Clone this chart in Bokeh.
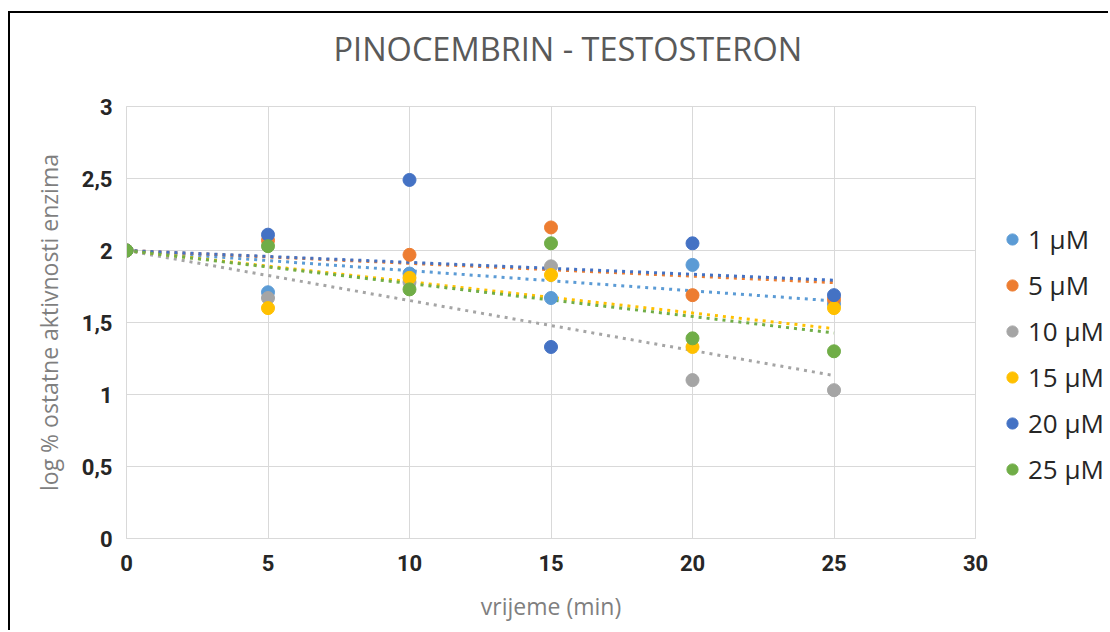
from bokeh.plotting import figure
from bokeh.layouts import row
from bokeh.models import Legend, LegendItem, FixedTicker, CustomJSTickFormatter, Title
from bokeh.embed import file_html
from bokeh.resources import INLINE

# ---- data ----
time_min = [0, 5, 10, 15, 20, 25]
series_names = ["1 \u00b5M", "5 \u00b5M", "10 \u00b5M", "15 \u00b5M", "20 \u00b5M", "25 \u00b5M"]
c1 = [2.00, 1.71, 1.84, 1.67, 1.90, 1.63]
c5 = [2.00, 2.07, 1.97, 2.16, 1.69, 1.66]
c10 = [2.00, 1.67, 1.78, 1.89, 1.10, 1.03]
c15 = [2.00, 1.60, 1.81, 1.83, 1.33, 1.60]
c20 = [2.00, 2.11, 2.49, 1.33, 2.05, 1.69]
c25 = [2.00, 2.03, 1.73, 2.05, 1.39, 1.30]
series_values = [c1, c5, c10, c15, c20, c25]
colors = ["#5B9BD5", "#ED7D31", "#A5A5A5", "#FFC000", "#4472C4", "#70AD47"]
x_ticks = [0, 5, 10, 15, 20, 25, 30]
y_ticks = [0, 0.5, 1, 1.5, 2, 2.5, 3]
title_text = "PINOCEMBRIN - TESTOSTERON"


def trend(xs, ys):
    # linear trendline with intercept fixed at the value at t=0
    y0 = ys[0]
    num = sum(x * (y - y0) for x, y in zip(xs, ys))
    den = sum(x * x for x in xs)
    k = num / den
    return [xs[0], xs[-1]], [y0 + k * xs[0], y0 + k * xs[-1]]


H = 617
p = figure(width=985, height=H, x_range=(0, 30), y_range=(0, 3),
           output_backend="svg", toolbar_location=None,
           min_border_left=116, min_border_right=20,
           min_border_top=93, min_border_bottom=92)

# spacer between title and plot frame, then the title itself
p.add_layout(Title(text=" ", text_font_size="2px", standoff=32), "above")
p.add_layout(Title(text=title_text, align="left", offset=207,
                   vertical_align="bottom", standoff=0,
                   text_font="Open Sans", text_font_style="normal",
                   text_font_size="32.5px", text_color="#595959"), "above")

p.outline_line_color = "#D9D9D9"
p.background_fill_color = "white"
p.border_fill_color = "white"

grid_col = "#D9D9D9"
p.xgrid.grid_line_color = grid_col
p.ygrid.grid_line_color = grid_col
p.xgrid.ticker = FixedTicker(ticks=x_ticks)
p.ygrid.ticker = FixedTicker(ticks=y_ticks)

p.xaxis.ticker = FixedTicker(ticks=x_ticks)
p.yaxis.ticker = FixedTicker(ticks=y_ticks)
p.yaxis.formatter = CustomJSTickFormatter(code="return String(tick).replace('.', ',');")

for ax in (p.xaxis[0], p.yaxis[0]):
    ax.axis_line_color = grid_col
    ax.major_tick_line_color = None
    ax.minor_tick_line_color = None
    ax.major_tick_out = 0
    ax.major_tick_in = 0
    ax.major_label_text_font = "Roboto"
    ax.major_label_text_font_style = "bold"
    ax.major_label_text_font_size = "22px"
    ax.major_label_text_color = "#262626"
    ax.axis_label_text_font = "Open Sans"
    ax.axis_label_text_font_style = "normal"
    ax.axis_label_text_font_size = "23px"
    ax.axis_label_text_color = "#7F7F7F"

p.xaxis.axis_label = "vrijeme (min)"
p.yaxis.axis_label = "log % ostatne aktivnosti enzima"
p.xaxis.major_label_standoff = 16
p.yaxis.major_label_standoff = 14
p.xaxis.axis_label_standoff = 16
p.yaxis.axis_label_standoff = 14

# trend lines (behind markers)
for vals, col in zip(series_values, colors):
    tx, ty = trend(time_min, vals)
    p.line(tx, ty, line_color=col, line_width=3, line_dash="3 5")

for vals, col in zip(series_values, colors):
    p.scatter(time_min, vals, size=13, fill_color=col, line_color=col)

# legend panel to the right of the plot (legend-only renderers, out of view)
lg = figure(width=113, height=H, x_range=(100, 101), y_range=(100, 101),
            output_backend="svg", toolbar_location=None,
            min_border=0, outline_line_color=None)
lg.axis.visible = False
lg.grid.visible = False
items = []
for name, vals, col in zip(series_names, series_values, colors):
    r = lg.scatter(x=time_min[:1], y=vals[:1], size=11, fill_color=col, line_color=col)
    items.append(LegendItem(label=name, renderers=[r]))

legend = Legend(items=items, location=(3, 51), orientation="vertical",
                glyph_width=28, glyph_height=30, label_height=30, spacing=10,
                label_standoff=2, padding=0, margin=0,
                border_line_color=None, background_fill_alpha=0,
                label_text_font="Open Sans", label_text_font_size="26px",
                label_text_color="#262626")
lg.add_layout(legend, "center")

layout = row(p, lg)
layout.styles = {"margin-left": "8px", "margin-top": "11px",
                 "border-left": "2px solid black", "border-top": "2px solid black"}

open("out.html", "w").write(file_html(layout, INLINE))
